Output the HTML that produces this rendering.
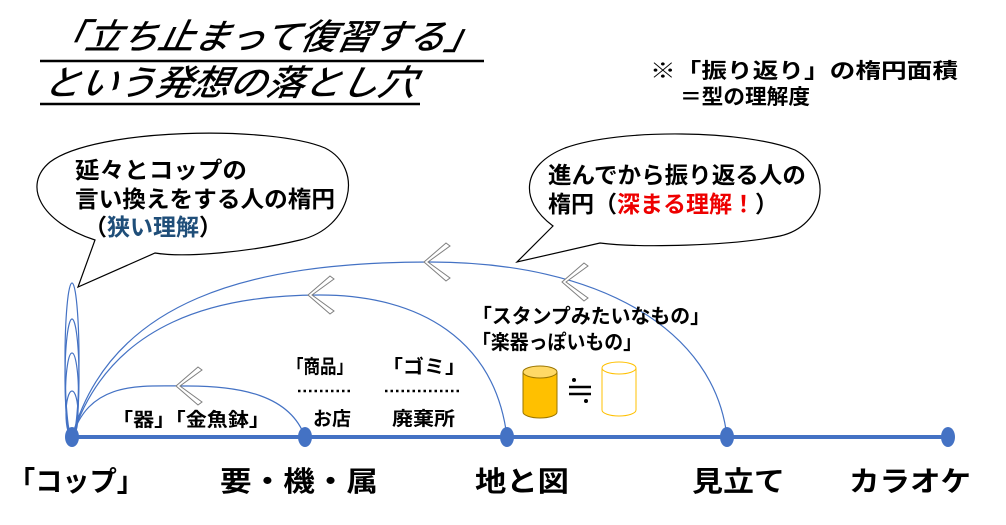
<!DOCTYPE html>
<html><head><meta charset="utf-8"><style>
html,body{margin:0;padding:0;background:#fff;}
svg{display:block;}
text{font-family:"Liberation Sans","Noto Sans CJK JP",sans-serif;}
</style></head><body>
<svg width="1006" height="525" viewBox="0 0 1006 525" xmlns="http://www.w3.org/2000/svg">
<!-- title -->
<g font-style="italic" font-size="35" fill="#000" stroke="#000" stroke-width="0.6">
<text x="48" y="49" textLength="432" lengthAdjust="spacingAndGlyphs" transform="skewX(-12) translate(10,0)">「立ち止まって復習する」</text>
<text x="42" y="95" textLength="372" lengthAdjust="spacingAndGlyphs" transform="skewX(-12) translate(20,0)">という発想の落とし穴</text>
</g>
<line x1="40" y1="61" x2="484" y2="61" stroke="#000" stroke-width="2.5"/>
<line x1="40" y1="104" x2="420" y2="104" stroke="#000" stroke-width="2.5"/>
<text x="650" y="78" font-size="21" font-weight="bold" textLength="308" lengthAdjust="spacingAndGlyphs">※「振り返り」の楕円面積</text>
<text x="680" y="104" font-size="21" font-weight="bold" textLength="130" lengthAdjust="spacingAndGlyphs">＝型の理解度</text>

<!-- bubbles -->
<path d="M95,240 C40,222 22,185 50,162 C95,128 270,125 325,148 C365,168 352,228 300,240 C250,252 185,258 155,253 L78,287 Z" fill="#fff" stroke="#000" stroke-width="1.2"/>
<text x="75" y="178" font-size="23" font-weight="bold" textLength="172" lengthAdjust="spacingAndGlyphs">延々とコップの</text>
<text x="75" y="207" font-size="23" font-weight="bold" textLength="260" lengthAdjust="spacingAndGlyphs">言い換えをする人の楕円</text>
<text x="84" y="235" font-size="23" font-weight="bold">（<tspan fill="#1f4e79">狭い理解</tspan>）</text>

<path d="M553,226 C518,200 522,165 565,148 C620,128 745,130 795,150 C835,172 825,226 780,236 C730,246 640,248 600,243 L517,262 Z" fill="#fff" stroke="#000" stroke-width="1.2"/>
<text x="548" y="183" font-size="23" font-weight="bold" textLength="258" lengthAdjust="spacingAndGlyphs">進んでから振り返る人の</text>
<text x="548" y="212" font-size="23" font-weight="bold">楕円（<tspan fill="#e00">深まる理解！</tspan>）</text>

<!-- arcs -->
<g fill="none" stroke="#4472c4" stroke-width="1.2">
<path d="M72,437 C90,380 140,386 188,386 C240,386 290,395 305,437"/>
<path d="M72,437 C110,320 220,295 320,295 C420,295 495,340 507,437"/>
<path d="M72,437 C110,300 250,262 430,262 C600,262 715,330 727,437"/>
<ellipse cx="72" cy="414" rx="6" ry="23"/>
<ellipse cx="72" cy="395" rx="6.5" ry="42"/>
<ellipse cx="72" cy="378" rx="7" ry="59"/>
<ellipse cx="72" cy="360" rx="7" ry="77"/>
</g>
<!-- chevrons -->
<g fill="#fff" stroke="#7f7f7f" stroke-width="1">
<path d="M180,386 L202,370 L198,367 L176,386 L198,405 L202,402 Z"/>
<path d="M312,295 L334,279 L330,276 L308,295 L330,314 L334,311 Z"/>
<path d="M428,262 L450,246 L446,243 L424,262 L446,281 L450,278 Z"/>
<path d="M566,282 L588,266 L584,263 L562,282 L584,301 L588,298 Z"/>
</g>

<!-- timeline -->
<line x1="72" y1="437" x2="948" y2="437" stroke="#4472c4" stroke-width="4"/>
<g fill="#4472c4">
<ellipse cx="72" cy="437" rx="7" ry="10"/>
<ellipse cx="305" cy="437" rx="7" ry="10"/>
<ellipse cx="507" cy="437" rx="7" ry="10"/>
<ellipse cx="727" cy="437" rx="7" ry="10"/>
<ellipse cx="948" cy="437" rx="7" ry="10"/>
</g>

<!-- labels -->
<g font-size="19" font-weight="bold">
<text x="112" y="426" textLength="158" lengthAdjust="spacingAndGlyphs">「器」「金魚鉢」</text>
<text x="287" y="373" textLength="66" lengthAdjust="spacingAndGlyphs">「商品」</text>
<text x="382" y="373" textLength="84" lengthAdjust="spacingAndGlyphs">「ゴミ」</text>
<text x="313" y="425" textLength="38" lengthAdjust="spacingAndGlyphs">お店</text>
<text x="392" y="425" textLength="63" lengthAdjust="spacingAndGlyphs">廃棄所</text>
<text x="472" y="323" font-size="20" textLength="238" lengthAdjust="spacingAndGlyphs">「スタンプみたいなもの」</text>
<text x="472" y="349" font-size="20" textLength="170" lengthAdjust="spacingAndGlyphs">「楽器っぽいもの」</text>
</g>
<line x1="298" y1="391" x2="352" y2="391" stroke="#000" stroke-width="2.5" stroke-dasharray="2.5,3"/>
<line x1="385" y1="391" x2="462" y2="391" stroke="#000" stroke-width="2.5" stroke-dasharray="2.5,3"/>

<!-- cylinders -->
<path d="M523,372 L523,412 A17,6 0 0 0 557,412 L557,372 Z" fill="#ffc000" stroke="#9a7500" stroke-width="1"/>
<ellipse cx="540" cy="372" rx="17" ry="6" fill="#ffd966" stroke="#9a7500" stroke-width="1"/>
<path d="M602,368 L602,410 A17,6 0 0 0 636,410 L636,368 Z" fill="#fff" stroke="#ffc000" stroke-width="1"/>
<ellipse cx="619" cy="368" rx="17" ry="6" fill="#fff" stroke="#ffc000" stroke-width="1"/>
<g stroke="#000" stroke-width="2.5"><line x1="569" y1="387" x2="591" y2="387"/><line x1="569" y1="394" x2="591" y2="394"/></g>
<circle cx="574" cy="380" r="2" fill="#000"/><circle cx="586" cy="401" r="2" fill="#000"/>

<!-- bottom labels -->
<g font-size="28" font-weight="bold">
<text x="8" y="491" textLength="136" lengthAdjust="spacingAndGlyphs">「コップ」</text>
<text x="220" y="491" textLength="158" lengthAdjust="spacingAndGlyphs">要・機・属</text>
<text x="475" y="491" textLength="94" lengthAdjust="spacingAndGlyphs">地と図</text>
<text x="692" y="491" textLength="93" lengthAdjust="spacingAndGlyphs">見立て</text>
<text x="849" y="491" textLength="122" lengthAdjust="spacingAndGlyphs">カラオケ</text>
</g>
</svg>
</body></html>
